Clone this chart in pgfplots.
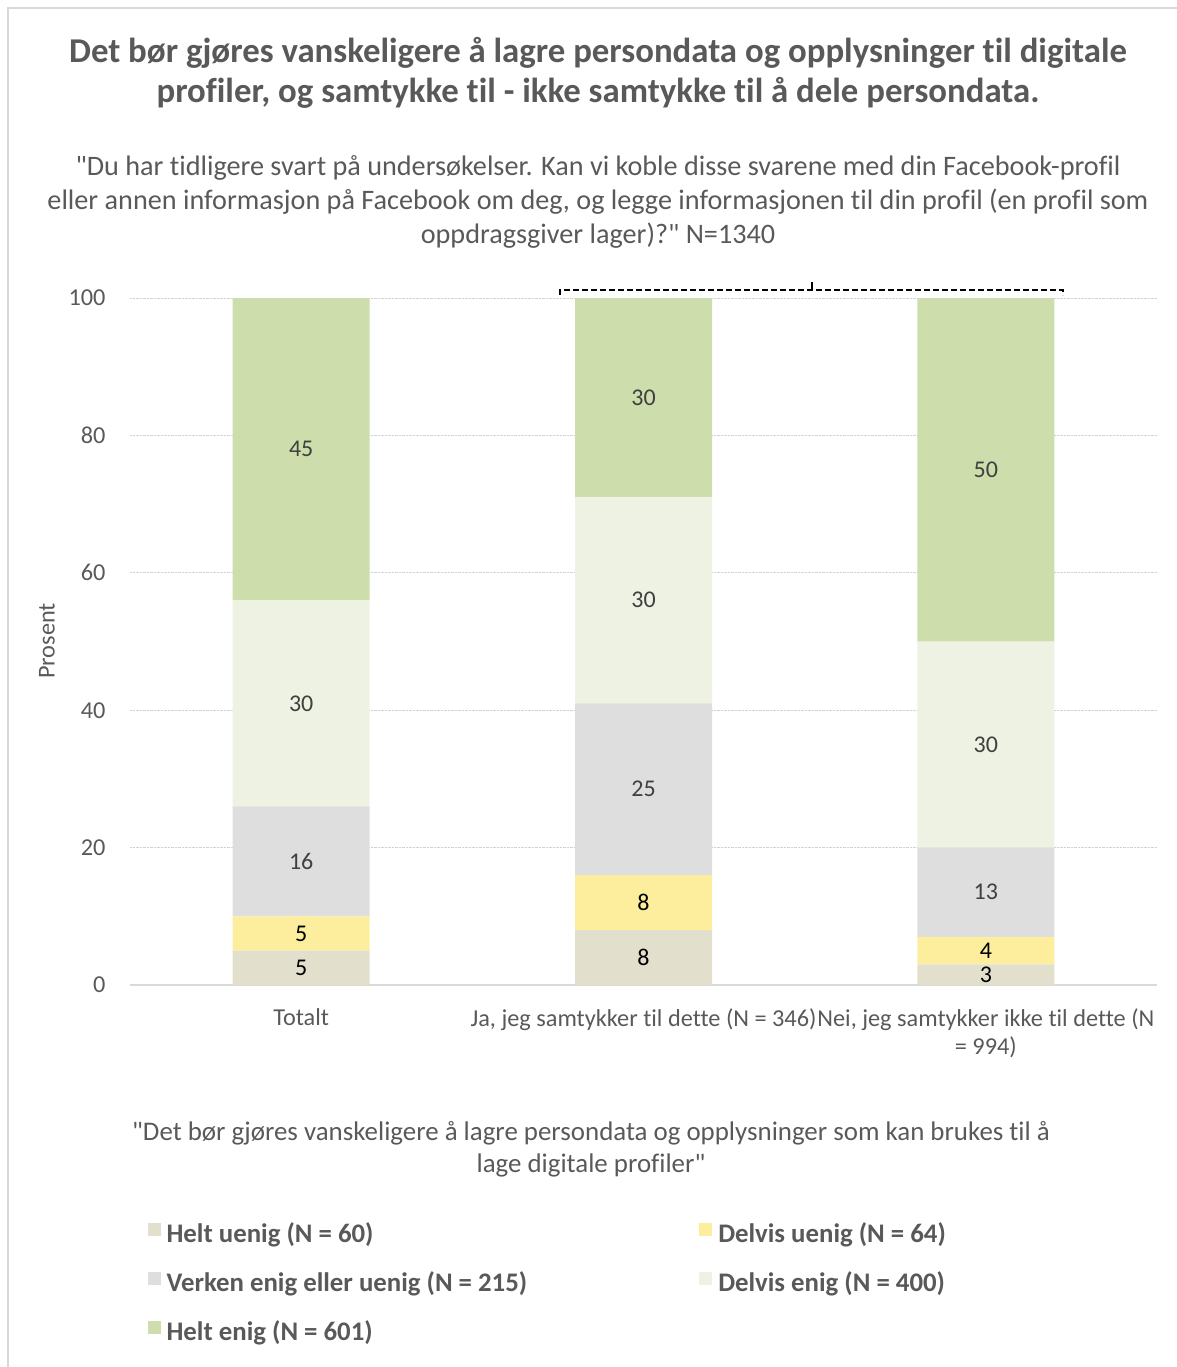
\documentclass[border=0pt]{standalone}
\usepackage{pgfplots}
\pgfplotsset{compat=1.18}
\usepackage{pgfplotstable}
\usepackage{fontspec}
\setmainfont{Carlito}[Ligatures={CommonOff,TeXOff}]
\definecolor{txt}{HTML}{595959}
\definecolor{lab}{HTML}{404040}
\definecolor{cHU}{HTML}{E2DFCC}
\definecolor{cDU}{HTML}{FCEE9C}
\definecolor{cVE}{HTML}{DEDEDE}
\definecolor{cDE}{HTML}{EEF2E3}
\definecolor{cHE}{HTML}{CDDDAC}
\definecolor{frame}{HTML}{D9D9D9}
\newcommand{\q}{\symbol{34}}

% heights as drawn (top segment capped at 100), labels as printed
\pgfplotstableread{
x hu du ve de he helab
0 5 5 16 30 44 45
1 8 8 25 30 29 30
2 3 4 13 30 50 50
}\data

\pgfplotsset{midlabel/.style={
  nodes near coords,
  every node near coord/.append style={
    anchor=center, font=\fontsize{24}{28}\selectfont, text=#1}}}

\begin{document}
\begin{tikzpicture}[x=1pt,y=1pt]
\useasboundingbox (0,0) rectangle (1176,-1367);
\draw[frame, line width=1.5pt] (8,-1380) -- (8,-8) -- (1190,-8);

\node[align=center, font=\bfseries\fontsize{34.8}{40}\selectfont, text=txt] at (598,-73)
  {Det bør gjøres vanskeligere å lagre persondata og opplysninger til digitale\\profiler, og samtykke til - ikke samtykke til å dele persondata.};
\node[align=center, font=\fontsize{28.2}{34}\selectfont, text=txt] at (598,-202)
  {\q Du har tidligere svart på undersøkelser. Kan vi koble disse svarene med din Facebook-profil\\eller annen informasjon på Facebook om deg, og legge informasjonen til din profil (en profil som\\oppdragsgiver lager)?\q{} N=1340};
\node[rotate=90, font=\fontsize{24.3}{28}\selectfont, text=txt] at (47,-641) {Prosent};
\node[align=center, font=\fontsize{26.9}{32}\selectfont, text=txt] at (591,-1149)
  {\q Det bør gjøres vanskeligere å lagre persondata og opplysninger som kan brukes til å\\lage digitale profiler\q};

\draw[black, line width=1.2pt, dash pattern=on 6pt off 3pt] (560,-295) -- (560,-290) -- (1063,-290) -- (1063,-295);
\draw[black, line width=1.2pt] (812,-290) -- (812,-282);

\begin{axis}[
  at={(130pt,-985pt)}, anchor=south west,
  width=1027pt, height=687pt, scale only axis,
  ybar stacked, bar width=137pt,
  xmin=-0.5, xmax=2.5, ymin=0, ymax=100, enlargelimits=false,
  xtick={0,1,2},
  xticklabels={Totalt, {Ja, jeg samtykker til dette (N = 346)}, {Nei, jeg samtykker ikke til dette (N\\= 994)}},
  xticklabel style={align=center, font=\fontsize{24.3}{28}\selectfont, text=txt, yshift=-20pt},
  ytick={0,20,...,100},
  yticklabel style={font=\fontsize{24.3}{28}\selectfont, text=txt, xshift=-21pt},
  /pgf/number format/assume math mode=true,
  major tick length=0pt,
  axis x line*=bottom, axis y line*=left,
  x axis line style={draw=frame, line width=1.5pt, -},
  y axis line style={draw=none},
  ymajorgrids, grid style={gray!35, densely dotted, line width=0.9pt},
  legend columns=2,
  legend cell align=left,
  legend image code/.code={\fill[#1] (0pt,-3pt) rectangle (13pt,10pt);},
  legend style={draw=none, fill=none, at={(0.014,-0.340)}, anchor=north west,
    font=\bfseries\fontsize{26.8}{30}\selectfont, text=txt,
    row sep=23.5pt,
    /tikz/every odd column/.append style={column sep=4pt},
    /tikz/every even column/.append style={column sep=170pt}},
]
\addplot[fill=cHU, draw=none, midlabel=black] table[x=x,y=hu]{\data};
\addplot[fill=cDU, draw=none, midlabel=black] table[x=x,y=du]{\data};
\addplot[fill=cVE, draw=none, midlabel=lab] table[x=x,y=ve]{\data};
\addplot[fill=cDE, draw=none, midlabel=lab] table[x=x,y=de]{\data};
\addplot[fill=cHE, draw=none, midlabel=lab, point meta=explicit symbolic] table[x=x,y=he,meta=helab]{\data};
\legend{Helt uenig (N = 60), Delvis uenig (N = 64), Verken enig eller uenig (N = 215), Delvis enig (N = 400), Helt enig (N = 601)}
\end{axis}
\end{tikzpicture}
\end{document}
